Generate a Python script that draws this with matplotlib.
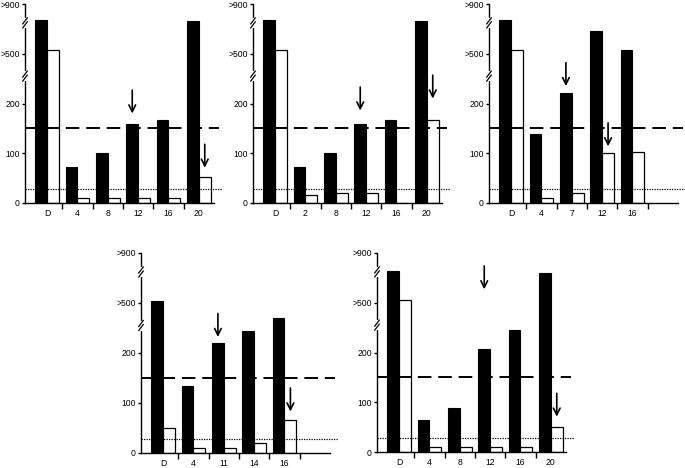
import matplotlib
matplotlib.use("Agg")
import matplotlib.pyplot as plt

plt.rcParams['font.family'] = ['Liberation Sans', 'DejaVu Sans']

# y values are on the broken display scale: 0, 100, 200, then 300 = ">500", 400 = ">900"
ytick_vals   = [0, 100, 200, 300, 400]
ytick_labels = ['0', '100', '200', '>500', '>900']
upper_limit  = 150   # dashed line
lower_limit  = 28    # dotted line

p1_labels = ['D', '4', '8', '12', '16', '20']
p1_black  = [367, 73, 100, 159, 167, 365]
p1_white  = [308, 10, 10, 10, 10, 53]
p1_arrows = [(3, 'b', 180), (5, 'w', 71)]

p2_labels = ['D', '2', '8', '12', '16', '20']
p2_black  = [367, 73, 100, 159, 167, 365]
p2_white  = [308, 16, 20, 20, 0, 167]
p2_arrows = [(3, 'b', 186), (5, 'w', 210)]

p3_labels = ['D', '4', '7', '12', '16']
p3_black  = [367, 139, 222, 345, 308]
p3_white  = [308, 10, 20, 100, 102]
p3_arrows = [(2, 'b', 235), (3, 'w', 114)]

p4_labels = ['D', '4', '11', '14', '16']
p4_black  = [305, 135, 220, 244, 271]
p4_white  = [51, 10, 10, 20, 67]
p4_arrows = [(2, 'b', 232), (4, 'w', 83)]

p5_labels = ['D', '4', '8', '12', '16', '20']
p5_black  = [364, 65, 89, 208, 245, 360]
p5_white  = [305, 10, 10, 10, 10, 51]
p5_arrows = [(3, 'b', 327), (5, 'w', 71)]

panels = [
    (p1_labels, p1_black, p1_white, p1_arrows, (25, 4, 214, 203)),
    (p2_labels, p2_black, p2_white, p2_arrows, (253, 4, 442, 203)),
    (p3_labels, p3_black, p3_white, p3_arrows, (489, 4, 678, 203)),
    (p4_labels, p4_black, p4_white, p4_arrows, (141, 253, 330, 453)),
    (p5_labels, p5_black, p5_white, p5_arrows, (377, 253, 566, 452)),
]

W, H = 685, 468
fig = plt.figure(figsize=(W / 100, H / 100), dpi=100)
bw = 0.39

for labels, black, white, arrows, (x0, y0, x1, y1) in panels:
    ax = fig.add_axes([x0 / W, 1 - y1 / H, (x1 - x0) / W, (y1 - y0) / H])
    pos = list(range(len(labels)))
    ax.bar([p - bw / 2 for p in pos], black, width=bw, color='black',
           edgecolor='black', linewidth=0.8)
    ax.bar([p + bw / 2 for p in pos], white, width=bw, color='white',
           edgecolor='black', linewidth=0.9)
    ax.set_xlim(-0.73, 5.5)
    ax.set_ylim(0, 400)

    ax.plot([-0.73, 5.67], [upper_limit] * 2, color='black', lw=1.4,
            dashes=(7, 3.5), clip_on=False)
    ax.plot([-0.73, 5.75], [lower_limit] * 2, color='black', lw=0.9,
            dashes=(1, 1), clip_on=False)

    for gi, side, tip in arrows:
        xa = gi - bw / 2 if side == 'b' else gi + bw / 2
        ax.annotate('', xy=(xa, tip), xytext=(xa, tip + 47),
                    arrowprops=dict(arrowstyle='->', lw=1.2, color='black',
                                    mutation_scale=12, shrinkA=0, shrinkB=0))

    for s in ['top', 'right']:
        ax.spines[s].set_visible(False)
    for s in ['left', 'bottom']:
        ax.spines[s].set_linewidth(1.0)

    ax.set_yticks(ytick_vals)
    ax.set_yticklabels(ytick_labels, fontsize=6.2)
    ax.tick_params(axis='y', length=2.5, width=1.0, pad=1.2)

    ax.set_xticks([i + 0.5 for i in range(5)])
    ax.set_xticklabels([])
    ax.tick_params(axis='x', which='major', length=4, width=1.0, direction='out')
    ax.set_xticks(pos, minor=True)
    ax.set_xticklabels(labels, minor=True, fontsize=6.2)
    ax.tick_params(axis='x', which='minor', length=0, pad=4.5)

    # axis break marks on the y axis
    for yb in [362, 255]:
        ax.plot([0, 0], [yb - 6, yb + 6], color='white', lw=3,
                transform=ax.get_yaxis_transform(), clip_on=False, zorder=5)
        for dy in [-4, 4]:
            ax.plot([-0.012, 0.012], [yb + dy - 6, yb + dy + 6], color='black',
                    lw=0.9, transform=ax.get_yaxis_transform(), clip_on=False,
                    zorder=6)

fig.savefig('out.png', dpi=100)
